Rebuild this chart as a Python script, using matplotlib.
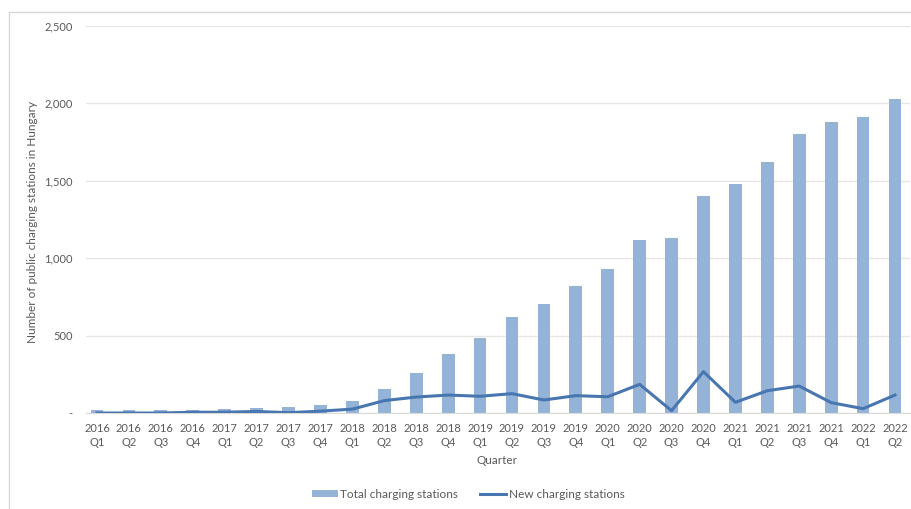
import matplotlib
matplotlib.use("Agg")
import matplotlib.pyplot as plt
from matplotlib.lines import Line2D
from matplotlib.patches import Patch
from matplotlib.ticker import FuncFormatter

plt.rcParams['font.family'] = ['Lato', 'DejaVu Sans']

quarters = ["2016\nQ1", "2016\nQ2", "2016\nQ3", "2016\nQ4",
            "2017\nQ1", "2017\nQ2", "2017\nQ3", "2017\nQ4",
            "2018\nQ1", "2018\nQ2", "2018\nQ3", "2018\nQ4",
            "2019\nQ1", "2019\nQ2", "2019\nQ3", "2019\nQ4",
            "2020\nQ1", "2020\nQ2", "2020\nQ3", "2020\nQ4",
            "2021\nQ1", "2021\nQ2", "2021\nQ3", "2021\nQ4",
            "2022\nQ1", "2022\nQ2"]
total_stations = [18, 17, 17, 21, 26, 34, 37, 50, 75, 157, 260, 379,
                  486, 618, 702, 818, 928, 1118, 1133, 1404, 1479, 1623,
                  1804, 1878, 1910, 2028]
new_stations = [0, 0, 0, 5, 5, 10, 2, 12, 25, 80, 103, 116,
                108, 125, 84, 112, 105, 185, 15, 267, 69, 144,
                174, 67, 28, 116]
yticks = [0, 500, 1000, 1500, 2000, 2500]

W, H = 911, 509
fig = plt.figure(figsize=(W / 100, H / 100), dpi=100)
ax = fig.add_axes([86 / W, 1 - 413 / H, (910 - 86) / W, (413 - 26) / H])

x = list(range(len(quarters)))
bar_color = '#95B3D7'
line_color = '#4876B0'
text_color = '#595959'

ax.bar(x, total_stations, width=0.4, color=bar_color, zorder=2,
       label='Total charging stations')
ax.plot(x, new_stations, color=line_color, linewidth=2.2, zorder=3,
        label='New charging stations')

ax.set_xlim(-0.345, 25.47)
ax.set_ylim(0, 2500)
ax.set_yticks(yticks)
ax.yaxis.set_major_formatter(FuncFormatter(lambda v, p: '-' if v == 0 else f'{int(v):,}'))
ax.set_xticks(x)
ax.set_xticklabels(quarters)
ax.grid(axis='y', color='#E6E6E6', linewidth=1, zorder=0)
for s in ax.spines.values():
    s.set_visible(False)
ax.spines['bottom'].set_visible(True)
ax.spines['bottom'].set_color('#D9D9D9')
ax.tick_params(axis='both', length=0, colors=text_color, labelsize=8)
ax.tick_params(axis='y', pad=9.5)
ax.tick_params(axis='x', pad=7)
for lbl in ax.get_xticklabels():
    lbl.set_linespacing(1.35)

fig.text(0.5, 0, '')
fig.text((86 + 910) / 2 / W * 0 + 497 / W, 1 - 461 / H, 'Quarter', color=text_color,
         fontsize=8.5, ha='center', va='center')
fig.text(33 / W, 1 - 222 / H, 'Number of public charging stations in Hungary',
         color=text_color, fontsize=8.5, rotation=90, ha='center', va='center')

handles = [Patch(facecolor=bar_color, edgecolor='none'),
           Line2D([0], [0], color=line_color, linewidth=2.2)]
fig.legend(handles, ['Total charging stations', 'New charging stations'],
           loc='center', bbox_to_anchor=(468 / W, 1 - 494 / H), ncol=2,
           frameon=False, fontsize=8.5, labelcolor=text_color,
           handlelength=2.2, handletextpad=0.2, columnspacing=1.9,
           handleheight=0.5)

# outer chart border (left and top visible)
fig.add_artist(Line2D([9 / W, 9 / W], [0, 1 - 12 / H], transform=fig.transFigure,
                      color='#D9D9D9', linewidth=1))
fig.add_artist(Line2D([9 / W, 1], [1 - 12 / H, 1 - 12 / H], transform=fig.transFigure,
                      color='#D9D9D9', linewidth=1))

fig.savefig('out.png', dpi=100, facecolor='white')
